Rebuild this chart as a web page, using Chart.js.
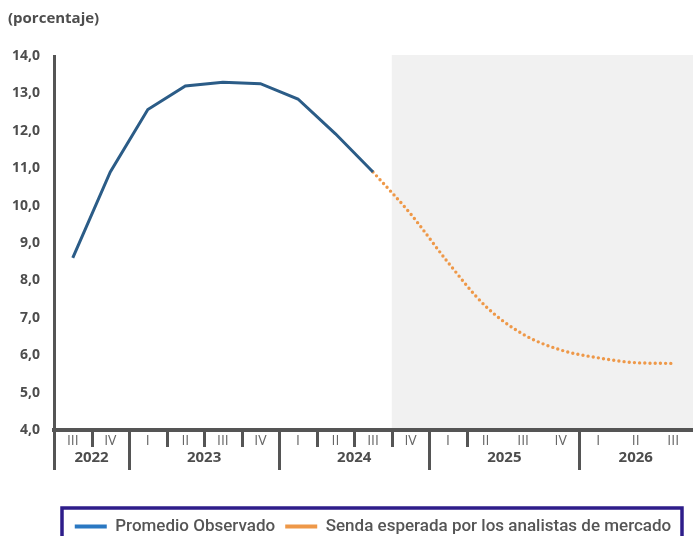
<!DOCTYPE html>
<html>
<head>
<meta charset="utf-8">
<script src="https://cdn.jsdelivr.net/npm/chart.js@4.4.1/dist/chart.umd.min.js"></script>
<style>
  html, body { margin: 0; padding: 0; background: #ffffff; }
  #wrap { width: 693px; height: 536px; position: relative; }
</style>
</head>
<body>
<div id="wrap"><canvas id="chart"></canvas></div>
<script>
// Quarterly periods from 2022-III to 2026-III
const quarters = ['III', 'IV', 'I', 'II', 'III', 'IV', 'I', 'II', 'III', 'IV', 'I', 'II', 'III', 'IV', 'I', 'II', 'III'];
const years = ['2022', '2023', '2024', '2025', '2026'];
const quartersPerYear = [2, 4, 4, 4, 3];

// Observed average (percent)
const observed = [8.6, 10.9, 12.57, 13.2, 13.3, 13.26, 12.85, 11.92, 10.9, null, null, null, null, null, null, null, null];
// Path expected by market analysts (percent)
const expected = [null, null, null, null, null, null, null, null, 10.9, 9.78, 8.48, 7.31, 6.56, 6.14, 5.93, 5.8, 5.78];

const seriesNames = ['Promedio Observado', 'Senda esperada por los analistas de mercado'];
const yMin = 4, yMax = 14, yStep = 1;
const unitLabel = '(porcentaje)';
const forecastFrom = 9;            // first quarter of the shaded projection band
const minorTickBoundaries = [1, 3, 4, 5, 7, 8, 9, 11];

const INK = '#4d4d4d';
const AXIS = '#555555';
const LINE_BLUE = '#2b5c87';
const LEGEND_BLUE = '#2a78c2';
const ORANGE = '#ee9848';
const PLOT_BOTTOM = 430;
const LEGEND_OVERHANG = 9;
const LEGEND_FONT = 17;
const LEGEND_PAD = 10;
const LEGEND_HEIGHT = LEGEND_FONT + 2 * LEGEND_PAD;

function boundaryX(xScale, b) {
  const step = xScale.getPixelForValue(1) - xScale.getPixelForValue(0);
  return xScale.getPixelForValue(0) - step / 2 + b * step;
}

const decorations = {
  id: 'decorations',
  beforeDraw(chart) {
    const { ctx, chartArea, scales: { x } } = chart;
    const x0 = boundaryX(x, forecastFrom);
    ctx.save();
    ctx.fillStyle = '#f1f1f1';
    ctx.fillRect(x0, chartArea.top - 1, chartArea.right + 2 - x0, chartArea.bottom - chartArea.top);
    ctx.restore();
  },
  afterDraw(chart) {
    const { ctx, chartArea, scales: { x } } = chart;
    const base = chartArea.bottom;
    ctx.save();
    ctx.strokeStyle = AXIS;
    ctx.lineWidth = 3;
    ctx.lineCap = 'butt';
    // minor ticks between quarters
    minorTickBoundaries.forEach(b => {
      const px = Math.round(boundaryX(x, b)) + 0.5;
      ctx.beginPath();
      ctx.moveTo(px, base);
      ctx.lineTo(px, base + 17);
      ctx.stroke();
    });
    // year separators and year labels
    let b = 0;
    ctx.font = 'bold 15px "Open Sans"';
    ctx.fillStyle = INK;
    ctx.textAlign = 'center';
    ctx.textBaseline = 'middle';
    years.forEach((yr, i) => {
      const start = boundaryX(x, b);
      const end = boundaryX(x, b + quartersPerYear[i]);
      const px = Math.round(start) + 0.5;
      ctx.beginPath();
      ctx.moveTo(px, base);
      ctx.lineTo(px, base + 40);
      ctx.stroke();
      ctx.fillText(yr, (start + end) / 2, base + 28);
      b += quartersPerYear[i];
    });
    // unit label
    ctx.textAlign = 'left';
    ctx.fillText(unitLabel, 8, 19);
    // legend frame
    const lg = chart.legend;
    ctx.strokeStyle = '#2e1d8a';
    ctx.lineWidth = 3.5;
    ctx.strokeRect(62, lg.top, 620, 60);
    ctx.restore();
  }
};

new Chart(document.getElementById('chart'), {
  type: 'line',
  data: {
    labels: quarters,
    datasets: [
      {
        label: seriesNames[0],
        data: observed,
        borderColor: LINE_BLUE,
        backgroundColor: LINE_BLUE,
        borderWidth: 3,
        tension: 0,
        pointRadius: 0
      },
      {
        label: seriesNames[1],
        data: expected,
        borderColor: ORANGE,
        backgroundColor: ORANGE,
        borderWidth: 3.4,
        borderDash: [0, 5.2],
        borderCapStyle: 'round',
        cubicInterpolationMode: 'monotone',
        pointRadius: 0
      }
    ]
  },
  options: {
    responsive: true,
    maintainAspectRatio: false,
    animation: false,
    layout: { padding: { top: 56, right: 1, left: 0, bottom: -LEGEND_OVERHANG } },
    plugins: {
      title: { display: false },
      tooltip: { enabled: false },
      legend: {
        position: 'bottom',
        fullSize: false,
        labels: {
          font: { family: 'Roboto', size: LEGEND_FONT, weight: '500' },
          color: '#555555',
          boxWidth: 32,
          boxHeight: 4,
          padding: LEGEND_PAD,
          useBorderRadius: true,
          borderRadius: 2,
          generateLabels(chart) {
            const legendColors = [LEGEND_BLUE, ORANGE];
            return chart.data.datasets.map((ds, i) => ({
              text: ds.label,
              fillStyle: legendColors[i],
              strokeStyle: legendColors[i],
              lineWidth: 0,
              lineDash: [],
              hidden: false,
              datasetIndex: i,
              fontColor: '#555555'
            }));
          }
        }
      }
    },
    scales: {
      x: {
        type: 'category',
        offset: true,
        grid: { display: false, drawTicks: false },
        border: { display: true, color: AXIS, width: 4 },
        ticks: {
          autoSkip: false,
          maxRotation: 0,
          padding: 3,
          color: '#666666',
          font: { family: 'Open Sans', size: 14, weight: 'normal' }
        },
        afterFit(scale) {
          scale.height = 536 - PLOT_BOTTOM - LEGEND_HEIGHT + LEGEND_OVERHANG;
        }
      },
      y: {
        min: yMin,
        max: yMax,
        grid: { display: false, drawTicks: false },
        border: { display: true, color: AXIS, width: 3 },
        ticks: {
          stepSize: yStep,
          padding: 14,
          color: INK,
          font: { family: 'Open Sans', size: 14, weight: 'bold' },
          callback: v => v.toFixed(1).replace('.', ',')
        },
        afterFit(scale) { scale.width = 54; }
      }
    }
  },
  plugins: [decorations]
});
</script>
</body>
</html>
